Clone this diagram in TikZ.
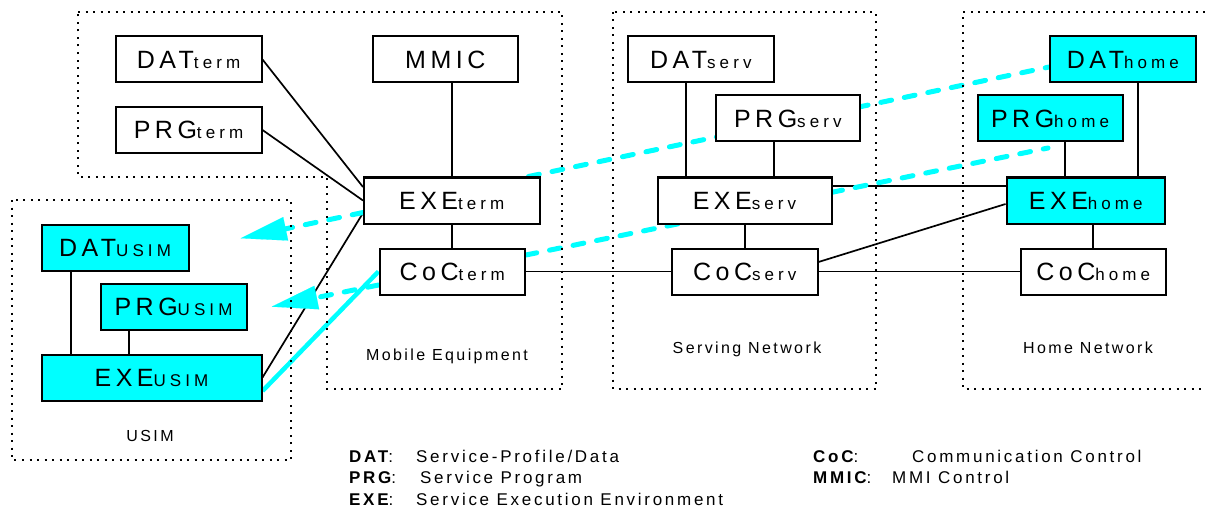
\documentclass[tikz,border=0pt]{standalone}
\usepackage{fontspec}
\setmainfont{Liberation Sans}
\newfontfamily\boxfont[LetterSpace=18]{Liberation Sans}
\newfontfamily\subfont[LetterSpace=24]{Liberation Sans}
\newfontfamily\lblfont[LetterSpace=15]{Liberation Sans}
\newfontfamily\legfont[LetterSpace=16]{Liberation Sans}
\usetikzlibrary{arrows.meta,calc}
\pgfdeclarelayer{lines}
\pgfdeclarelayer{frames}
\pgfsetlayers{lines,frames,main}
\definecolor{cy}{RGB}{0,255,255}
\newcommand{\boxtxt}[2]{{\boxfont\fontsize{25}{25}\selectfont #1}{\subfont\fontsize{17}{17}\selectfont #2}}
\begin{document}
\begin{tikzpicture}[x=1pt,y=-1pt,
  box/.style={draw=black, line width=2pt, fill=white, minimum height=46pt, inner sep=0pt, text=black},
  cybox/.style={box, fill=cy},
  conn/.style={draw=black, line width=1.7pt},
  frame/.style={draw=black, line width=2pt, dash pattern=on 2pt off 5.5pt},
  cydash/.style={draw=cy, line width=5pt, line cap=round, dash pattern=on 11pt off 13pt},
  cysolid/.style={draw=cy, line width=4.5pt},
  tip/.style={-{Triangle[length=46pt,width=24pt,line width=0.1pt]}},
  lbl/.style={font=\lblfont\fontsize{16}{16}\selectfont, anchor=base, inner sep=0pt},
  leg/.style={font=\legfont\fontsize{17}{17}\selectfont, anchor=base west, inner sep=0pt},
]
\useasboundingbox (0,0) rectangle (1205,508);

% boxes
\node[box, minimum width=146pt] (datterm) at (188.5,59.5) {\boxtxt{DAT}{term}};
\node[box, minimum width=146pt] (prgterm) at (188.5,130) {\boxtxt{PRG}{term}};
\node[box, minimum width=145.5pt] (mmic) at (445.25,59.5) {\boxtxt{MMIC}{}};
\node[box, minimum width=175.5pt] (exeterm) at (451.75,200.5) {\boxtxt{EXE}{term}};
\node[box, minimum width=145.5pt] (cocterm) at (452.25,271.5) {\boxtxt{CoC}{term}};
\node[cybox, minimum width=147pt] (datusim) at (115,248) {\boxtxt{DAT}{USIM}};
\node[cybox, minimum width=146pt] (prgusim) at (173.5,307) {\boxtxt{PRG}{USIM}};
\node[cybox, minimum width=220pt] (exeusim) at (151.5,377.5) {\boxtxt{EXE}{USIM}};
\node[box, minimum width=145.5pt] (datserv) at (700.75,59.5) {\boxtxt{DAT}{serv}};
\node[box, minimum width=143.5pt] (prgserv) at (787.8,118.5) {\boxtxt{PRG}{serv}};
\node[box, minimum width=174pt] (exeserv) at (744.5,200.5) {\boxtxt{EXE}{serv}};
\node[box, minimum width=145.5pt] (cocserv) at (744.75,271.5) {\boxtxt{CoC}{serv}};
\node[cybox, minimum width=145.5pt] (dathome) at (1122.85,59.5) {\boxtxt{DAT}{home}};
\node[cybox, minimum width=145pt] (prghome) at (1050,118.5) {\boxtxt{PRG}{home}};
\node[cybox, minimum width=158.5pt] (exehome) at (1085.8,200.5) {\boxtxt{EXE}{home}};
\node[box, minimum width=144.5pt] (cochome) at (1093.3,271.5) {\boxtxt{CoC}{home}};

% region labels
\node[lbl] (lme) at (447,360) {Mobile Equipment};
\node[lbl] (lsn) at (747,353) {Serving Network};
\node[lbl] (lhn) at (1088,353) {Home Network};
\node[lbl] (lus) at (150,441) {USIM};

% legend
\node[leg] (kdat) at (349,462.5) {\bfseries DAT\mdseries:};
\node[leg] (ddat) at (416,462.5) {Service-Profile/Data};
\node[leg] (kprg) at (349,483.5) {\bfseries PRG\mdseries:};
\node[leg] (dprg) at (420,483.5) {Service Program};
\node[leg] (kexe) at (349,505) {\bfseries EXE\mdseries:};
\node[leg] (dexe) at (416,505) {Service Execution Environment};
\node[leg] (kcoc) at (813,462.5) {\bfseries CoC\mdseries:};
\node[leg] (dcoc) at (912,462.5) {Communication Control};
\node[leg] (kmmic) at (813,483.5) {\bfseries MMIC\mdseries:};
\node[leg] (dmmic) at (892,483.5) {MMI Control};

\coordinate (t1) at (240.7,238.3);
\coordinate (t2) at (271.7,306.7);
\coordinate (e2) at (1048,148);

\coordinate (vdu) at ([xshift=-44pt]datusim.south);
\coordinate (vpu) at ([xshift=-44.5pt]prgusim.south);
\coordinate (vds) at ([xshift=-14.75pt]datserv.south);
\coordinate (vps) at ([xshift=-13.8pt]prgserv.south);
\coordinate (vph) at ([xshift=15pt]prghome.south);
\coordinate (vdh) at ([xshift=14.85pt]dathome.south);

\begin{pgfonlayer}{frames}
\draw[frame] (78,12) -- (562,12) -- (562,389) -- (327,389) -- (327,177) -- (78,177) -- cycle;
\draw[frame] (12,200) rectangle (291,460);
\draw[frame] (613,12) rectangle (875.5,389);
\draw[frame] (1205,12) -- (963,12) -- (963,389) -- (1205,389);
\end{pgfonlayer}

\begin{pgfonlayer}{lines}
% black connectors
\draw[conn] (datterm.east) -- ([yshift=13.5pt]exeterm.west);
\draw[conn] (prgterm.east) -- (exeterm.west);
\draw[conn] (exeusim.east) -- ([yshift=-12.5pt]exeterm.west);
\draw[conn] (exeterm.north) -- (exeterm.north |- mmic.south);
\draw[conn] (exeterm.south) -- (exeterm.south |- cocterm.north);
\draw[conn] (vdu) -- (vdu |- exeusim.north);
\draw[conn] (vpu) -- (vpu |- exeusim.north);
\draw[conn] (cocterm.east) -- (cocserv.west);
\draw[conn] (vds) -- (vds |- exeserv.north);
\draw[conn] (vps) -- (vps |- exeserv.north);
\draw[conn] (cocserv.north) -- (cocserv.north |- exeserv.south);
\draw[conn] ([yshift=14.5pt]exeserv.east) -- ([yshift=14.5pt]exehome.west);
\draw[conn] ([yshift=9.5pt]cocserv.east) -- ([yshift=-3.5pt]exehome.west);
\draw[conn] (cocserv.east) -- (cochome.west);
\draw[conn] (vph) -- (vph |- exehome.north);
\draw[conn] (vdh) -- (vdh |- exehome.north);
\draw[conn] (cochome.north) -- (cochome.north |- exehome.south);
% cyan connectors
\draw[cysolid] ([yshift=-13.5pt]exeusim.east) -- (cocterm.west);
\draw[cydash] ([xshift=-12pt]exeterm.north east) -- ([yshift=-7.5pt]dathome.west);
\draw[cydash] ([yshift=16.5pt]cocterm.east) -- (e2);
\draw[cydash, tip] ([yshift=-12pt]exeterm.west) -- (t1);
\draw[cydash, tip] ([yshift=-13.5pt]cocterm.west) -- (t2);
\end{pgfonlayer}
\end{tikzpicture}
\end{document}
